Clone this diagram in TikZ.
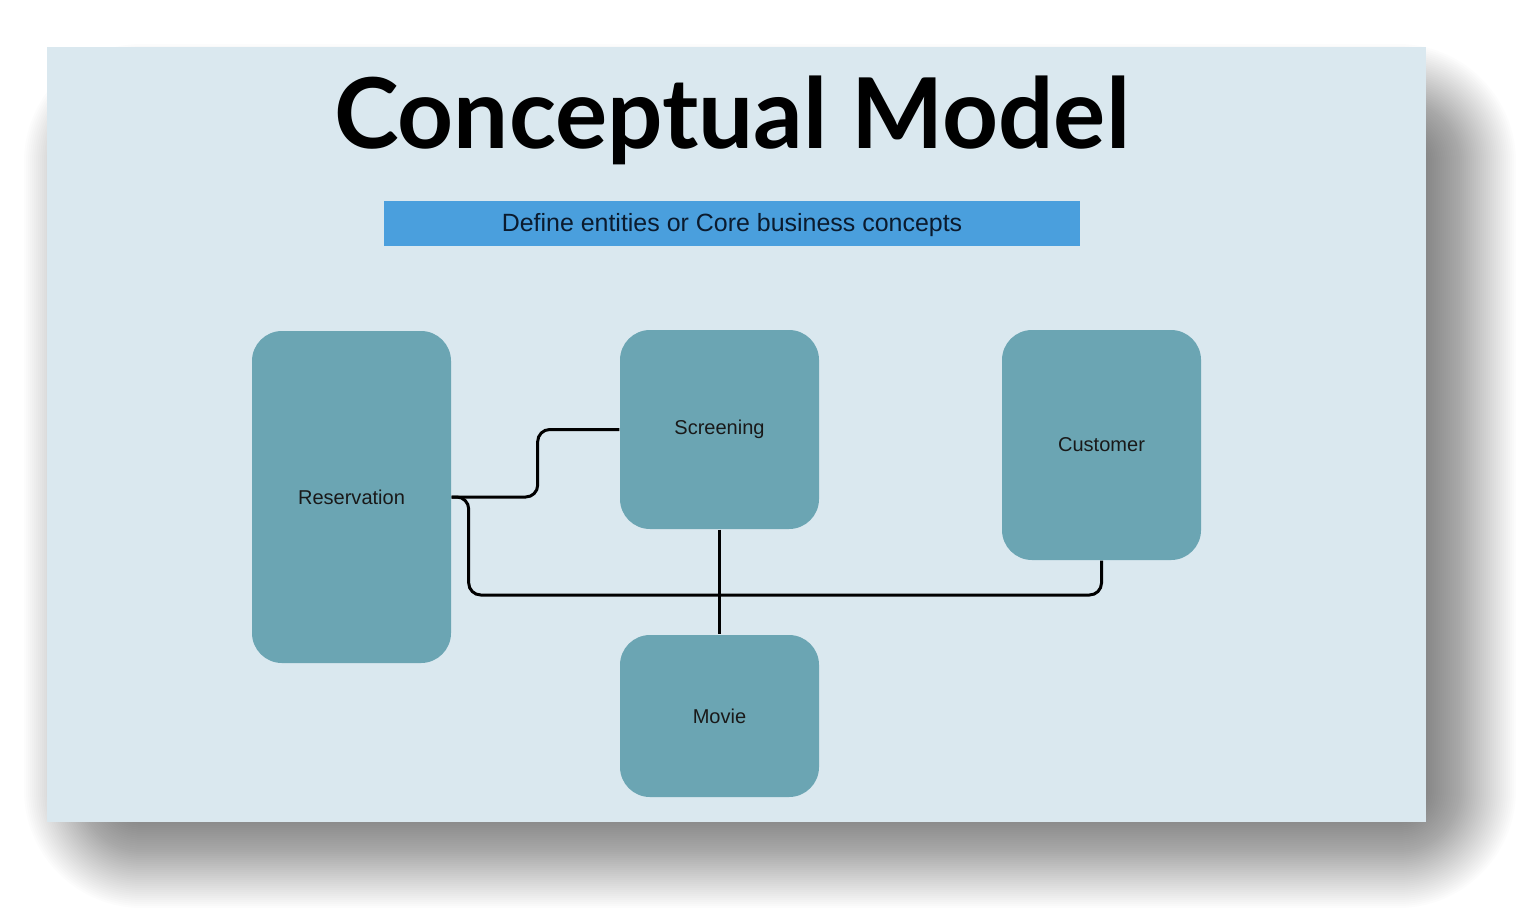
\documentclass[tikz,border=0pt]{standalone}
\usepackage{fontspec}
\setmainfont{Liberation Sans}
\newfontfamily\titlefont{Lato}
\usetikzlibrary{positioning}

\definecolor{slidebg}{HTML}{DAE8EF}
\definecolor{bannerblue}{HTML}{4A9FDD}
\definecolor{entityteal}{HTML}{6BA5B3}
\definecolor{bannertext}{HTML}{0B1B2E}

\tikzset{
	entity/.style={fill=entityteal, rounded corners=3mm, inner sep=0pt,
		minimum width=19.9mm, font=\fontsize{5.7pt}{7pt}\selectfont, text=black!90},
	link/.style={line width=0.85pt, black, rounded corners=1.2mm}
}

\begin{document}
\begin{tikzpicture}[x=0.1mm, y=-0.1mm]
	\useasboundingbox (0,0) rectangle (1521,917);
	\fill[white] (0,0) rectangle (1521,917);
	% soft shadow of the slide
	\foreach \o in {-60,-58,...,58} {
		\fill[black, opacity=0.012, rounded corners={max(2,\o+60)*0.1mm}]
			(82-\o, 102-\o) rectangle (1458+\o, 850+\o);
	}
	\fill[slidebg] (47,47) rectangle (1426,822);

	% title and banner
	\node[anchor=base] (title) at (732,148) {\titlefont\bfseries\fontsize{27.8pt}{30pt}\selectfont Conceptual Model};
	\fill[bannerblue] (384,201) rectangle (1080,246);
	\node[text=bannertext, font=\fontsize{7.1pt}{8pt}\selectfont] (banner) at (732,225) {Define entities or Core business concepts};

	% entities
	\node[entity, minimum height=33.2mm] (res) at (351.5,497) {Reservation};
	\node[entity, minimum height=19.9mm] (scr) at (719.5,429.5) {Screening};
	\node[entity, minimum height=23mm] (cus) at (1101.5,445) {Customer};
	\node[entity, minimum height=16.2mm] (mov) at (719.5,716) {Movie};

	% relations
	\draw[link] (res.east) -- ++(86,0) |- (scr.west);
	\draw[link] (res.east) -- ++(17,0) -- ++(0,98) -| (cus.south);
	\draw[link] (scr.south) -- (mov.north);
\end{tikzpicture}
\end{document}
